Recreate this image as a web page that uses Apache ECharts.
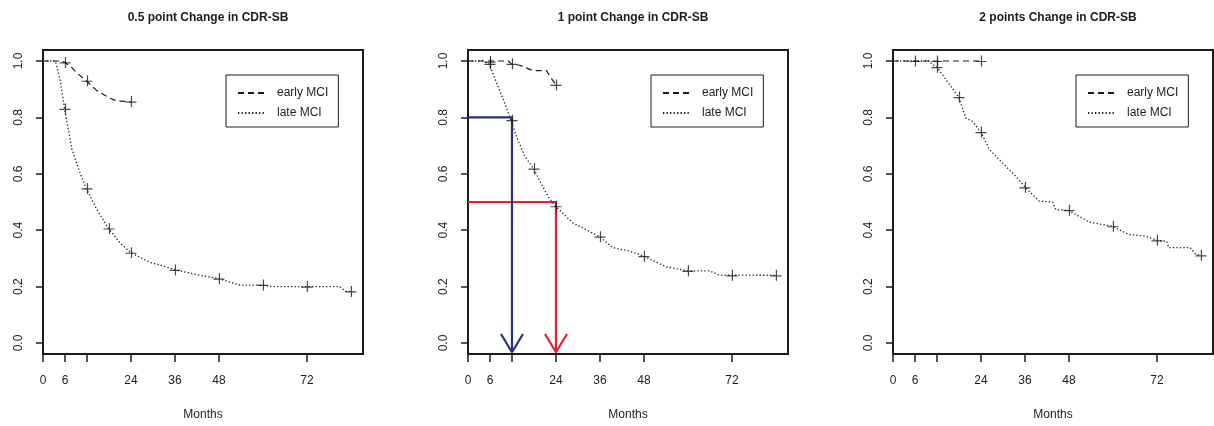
<!DOCTYPE html>
<html>
<head>
<meta charset="utf-8">
<script src="https://cdn.jsdelivr.net/npm/echarts@6/dist/echarts.min.js"></script>
<style>
  html, body { margin: 0; padding: 0; background: #fff; }
  #chart { width: 1214px; height: 426px; }
</style>
</head>
<body>
<div id="chart"></div>
<script>
// 标题
var titles = ['0.5 point Change in CDR-SB', '1 point Change in CDR-SB', '2 points Change in CDR-SB'];
var groupNames = ['early MCI', 'late MCI'];

// 刻度
var xTicks = [0, 6, 12, 24, 36, 48, 72];
var xTickLabels = [0, 6, 24, 36, 48, 72];
var yTicks = [0, 0.2, 0.4, 0.6, 0.8, 1.0];

// 曲线 [月, 生存率]
var early05 = [[0,1],[5,1],[6,0.995],[8,0.975],[9.3,0.957],[11.8,0.93],[14.7,0.895],[18.3,0.868],[20.2,0.858],[24,0.856]];
var late05 = [[0,1],[3.4,1],[4.7,0.93],[5.9,0.83],[7.9,0.686],[10.2,0.6],[11.8,0.548],[14.7,0.473],[17.9,0.406],[21,0.355],[24,0.32],[29.2,0.286],[32.9,0.273],[36,0.259],[42.9,0.24],[48,0.228],[53.8,0.205],[60,0.205],[62.8,0.2],[72,0.2],[81,0.2],[82.5,0.183],[84.2,0.183]];
var early1 = [[0,1],[11,1],[11.8,0.99],[14.1,0.985],[14.5,0.978],[17.7,0.966],[21.4,0.966],[22.7,0.939],[24,0.915]];
var late1 = [[0,1],[4.1,1],[5.7,0.99],[8.6,0.897],[10.9,0.82],[13.2,0.733],[15.5,0.662],[17.9,0.618],[19.6,0.574],[21.8,0.52],[23.9,0.485],[28.6,0.426],[35.9,0.377],[39.5,0.338],[44.1,0.326],[47.9,0.308],[54.1,0.27],[59.8,0.256],[65.9,0.256],[68.6,0.241],[84,0.24]];
var early2 = [[0,1],[24,1]];
var late2 = [[0,1],[10,1],[10.5,0.99],[12,0.978],[14.5,0.933],[17.9,0.872],[19.9,0.797],[21.7,0.786],[24,0.748],[26.3,0.686],[29.9,0.638],[33.5,0.591],[36.1,0.552],[39.9,0.503],[43.5,0.5],[44.4,0.473],[47.8,0.471],[53.5,0.429],[57.1,0.42],[59.8,0.414],[64.3,0.385],[68.9,0.379],[72,0.364],[74.7,0.36],[75.2,0.338],[81.1,0.338],[82.5,0.315],[84,0.311]];

// 删失标记 (+)
var earlyCens05 = [[6,0.995],[12,0.93],[24,0.856]];
var lateCens05 = [[6,0.83],[12,0.548],[18,0.406],[24,0.32],[36,0.259],[48,0.228],[60,0.206],[72,0.2],[84,0.183]];
var earlyCens1 = [[6,0.998],[12,0.99],[24,0.915]];
var lateCens1 = [[6,0.99],[12,0.79],[18,0.618],[24,0.485],[36,0.377],[48,0.308],[60,0.256],[72,0.24],[84,0.24]];
var earlyCens2 = [[6,1],[12,1],[24,1]];
var lateCens2 = [[12,0.978],[18,0.872],[24,0.748],[36,0.552],[48,0.471],[60,0.414],[72,0.364],[84,0.311]];

// 第二幅图的中位时间箭头
var guideMonths = [12, 24];
var guideLevels = [0.8, 0.5];
var guideColors = ['#28307e', '#e2222a'];

var earlyLines = [early05, early1, early2];
var lateLines = [late05, late1, late2];
var earlyCens = [earlyCens05, earlyCens1, earlyCens2];
var lateCens = [lateCens05, lateCens1, lateCens2];

var ink = '#1c1c1c';
var plusIcon = 'path://M0,5.4H11V6.6H0Z M5.4,0H6.6V11H5.4Z';
var lefts = [43, 468, 893];
var plotW = 320;
var xMax = 87.3, yMin = -0.039, yMax = 1.039;

var grids = [], xAxes = [], yAxes = [], series = [], titleList = [], legends = [];

for (var i = 0; i < 3; i++) {
    grids.push({
        left: lefts[i], top: 50, width: plotW, height: 305,
        show: true, borderColor: ink, borderWidth: 2, backgroundColor: '#fff'
    });
    xAxes.push({
        type: 'value', gridIndex: i, min: 0, max: xMax,
        name: 'Months', nameLocation: 'middle', nameGap: 55,
        nameTextStyle: { color: ink, fontSize: 12, fontFamily: 'Liberation Sans' },
        axisLine: { show: false, onZero: false },
        splitLine: { show: false },
        axisTick: { show: true, length: 8, customValues: xTicks, lineStyle: { color: ink, width: 1.5 } },
        axisLabel: { customValues: xTickLabels, margin: 21, color: ink, fontSize: 12, fontFamily: 'Liberation Sans' }
    });
    yAxes.push({
        type: 'value', gridIndex: i, min: yMin, max: yMax,
        axisLine: { show: false, onZero: false },
        splitLine: { show: false },
        axisTick: { show: true, length: 7, customValues: yTicks, lineStyle: { color: ink, width: 1.5 } },
        axisLabel: {
            customValues: yTicks, rotate: 90, margin: 18, color: ink, fontSize: 12,
            fontFamily: 'Liberation Sans',
            formatter: function (v) { return v.toFixed(1); }
        }
    });
    titleList.push({
        text: titles[i], left: lefts[i] + plotW / 2, top: 7, textAlign: 'center',
        textStyle: { fontSize: 12, fontWeight: 'bold', color: ink, fontFamily: 'Liberation Sans' }
    });
    legends.push({
        left: lefts[i] + 183, top: 75, orient: 'vertical',
        data: groupNames,
        itemWidth: 28, itemHeight: 10, itemGap: 8,
        padding: [12, 10, 8, 11],
        borderColor: ink, borderWidth: 1, backgroundColor: '#fff',
        selectedMode: false,
        itemStyle: { color: 'rgba(0,0,0,0)', opacity: 0, borderWidth: 0 },
        textStyle: { color: ink, fontSize: 12, fontFamily: 'Liberation Sans', padding: [0, 0, 0, 6] }
    });

    series.push({
        name: groupNames[0], type: 'line', xAxisIndex: i, yAxisIndex: i,
        data: earlyLines[i], symbol: 'none', color: ink,
        lineStyle: { color: ink, width: 1.2, type: [6, 4] }, z: 3
    });
    series.push({
        name: groupNames[1], type: 'line', xAxisIndex: i, yAxisIndex: i,
        data: lateLines[i], symbol: 'none', color: ink,
        lineStyle: { color: ink, width: 1.3, type: [1.3, 2.2] }, z: 3
    });
    series.push({
        name: 'early censored', type: 'scatter', xAxisIndex: i, yAxisIndex: i,
        data: earlyCens[i], symbol: plusIcon, symbolSize: 11,
        itemStyle: { color: ink }, z: 4
    });
    series.push({
        name: 'late censored', type: 'scatter', xAxisIndex: i, yAxisIndex: i,
        data: lateCens[i], symbol: plusIcon, symbolSize: 11,
        itemStyle: { color: ink }, z: 4
    });
}

// 箭头 (蓝色在上)
var tipY = -0.033, headW = 3, headH = 0.065;
for (var k = 0; k < guideMonths.length; k++) {
    var m = guideMonths[k], lv = guideLevels[k];
    series.push({
        name: 'guide' + k, type: 'line', xAxisIndex: 1, yAxisIndex: 1,
        data: [[0, lv], [m, lv], [m, tipY]],
        symbol: 'none', lineStyle: { color: guideColors[k], width: 2.2 }, z: 3 - k
    });
    series.push({
        name: 'head' + k, type: 'line', xAxisIndex: 1, yAxisIndex: 1,
        data: [[m - headW, tipY + headH], [m, tipY], [m + headW, tipY + headH]],
        symbol: 'none', lineStyle: { color: guideColors[k], width: 2.2 }, z: 3 - k
    });
}

var chart = echarts.init(document.getElementById('chart'));
chart.setOption({
    animation: false,
    backgroundColor: '#fff',
    title: titleList,
    legend: legends,
    grid: grids,
    xAxis: xAxes,
    yAxis: yAxes,
    series: series
});
</script>
</body>
</html>
